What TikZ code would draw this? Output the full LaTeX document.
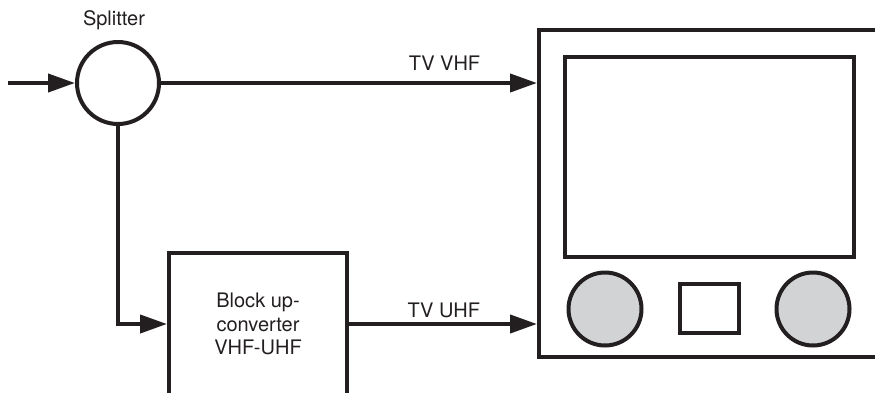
\documentclass[tikz,border=0pt]{standalone}
\usepackage{fontspec}
\setmainfont{TeX Gyre Heros}
\usetikzlibrary{arrows.meta}
\definecolor{ink}{RGB}{35,31,32}
\definecolor{knobgray}{RGB}{209,211,212}
\begin{document}
\begin{tikzpicture}[x=1pt,y=-1pt,
  every node/.style={font=\fontsize{20pt}{23.5pt}\selectfont, text=ink},
  wire/.style={draw=ink, line width=4pt},
  arr/.style={wire, -{Triangle[length=27pt,width=18pt]}},
  shp/.style={draw=ink, line width=4pt, inner sep=0pt},
  lbl/.style={inner sep=0pt}]
\useasboundingbox (0,0) rectangle (875,392);
% splitter
\node[shp, circle, minimum size=82pt] (split) at (118,83) {};
\node[lbl] (splabel) at (114,20) {Splitter};
\coordinate (in) at (8,83);
% TV set
\node[shp, rectangle, minimum width=361pt, minimum height=327pt] (tv) at (719.5,193.5) {};
\node[shp, rectangle, minimum width=289pt, minimum height=200pt] (screen) at (709.5,157) {};
\node[shp, circle, fill=knobgray, minimum size=73pt] (knobL) at (605,309) {};
\node[shp, circle, fill=knobgray, minimum size=73pt] (knobR) at (813,309) {};
\node[shp, rectangle, minimum width=59pt, minimum height=49pt] (sq) at (709.5,308.5) {};
% block up-converter
\node[shp, rectangle, minimum width=178pt, minimum height=167pt] (blk) at (258,336.5) {};
\node[lbl, align=center] (btxt) at (258,324) {Block up-\\converter\\VHF-UHF};
% connectors
\draw[arr] (in) -- (split.west);
\draw[arr] (split.east) -- (split.east -| tv.west) node[lbl, pos=0.754, yshift=20pt] (vhf) {TV VHF};
\draw[arr] (split.south) |- (blk.west |- btxt);
\draw[arr] (blk.east |- btxt) -- (tv.west |- btxt) node[lbl, pos=0.505, yshift=13.5pt] (uhf) {TV UHF};
\end{tikzpicture}
\end{document}
